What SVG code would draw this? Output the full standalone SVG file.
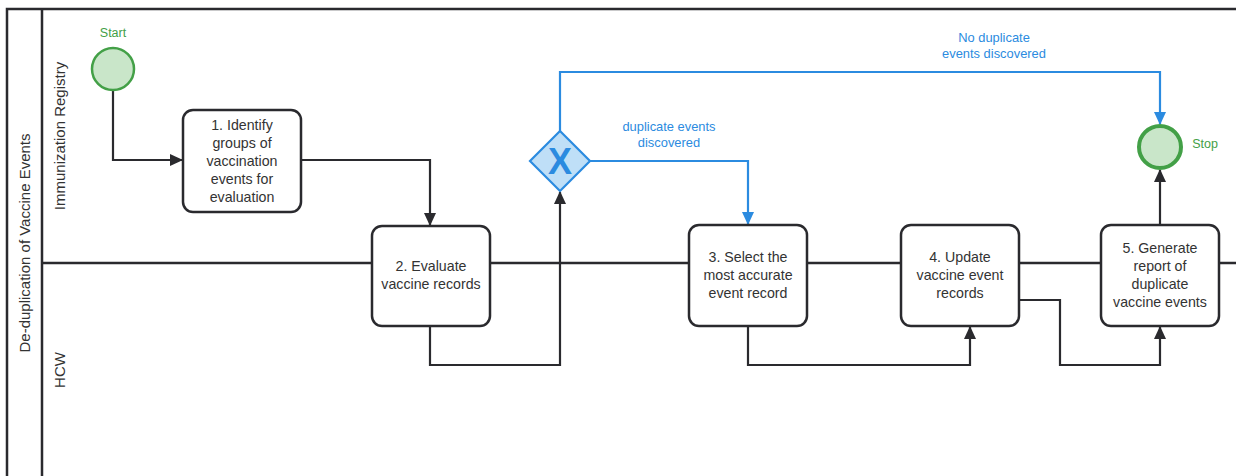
<svg xmlns="http://www.w3.org/2000/svg" width="1236" height="476" viewBox="0 0 1236 476">
<defs>
<style>
.frame{fill:none;stroke:#2a2a2e;stroke-width:2.5}
.task rect{fill:#fff;stroke:#2a2a2e;stroke-width:2.5}
.t{font-family:"Liberation Sans",Arial,sans-serif;font-size:14.2px;fill:#333;text-anchor:middle}
.lane{font-family:"Liberation Sans",Arial,sans-serif;font-size:15px;fill:#333;text-anchor:middle}
.g{font-family:"Liberation Sans",Arial,sans-serif;font-size:12.5px;fill:#43a047;text-anchor:middle}
.b{font-family:"Liberation Sans",Arial,sans-serif;font-size:12.9px;fill:#2b8be0;text-anchor:middle}
.c{fill:none;stroke:#2a2a2e;stroke-width:2.2}
.cb{fill:none;stroke:#2b8be0;stroke-width:2.2}
</style>
<marker id="ak" markerWidth="13" markerHeight="12" refX="12" refY="6" orient="auto" markerUnits="userSpaceOnUse" viewBox="0 0 13 12"><path d="M0,0L13,6L0,12z" fill="#2a2a2e"/></marker>
<marker id="ab" markerWidth="13" markerHeight="12" refX="12" refY="6" orient="auto" markerUnits="userSpaceOnUse" viewBox="0 0 13 12"><path d="M0,0L13,6L0,12z" fill="#2b8be0"/></marker>
</defs>
<rect width="1236" height="476" fill="#fff"/>
<g id="pool">
<path class="frame" d="M1240,9H7V480"/>
<line class="frame" x1="42" y1="9" x2="42" y2="480"/>
<line class="frame" x1="42" y1="263" x2="1240" y2="263"/>
<text class="lane" transform="translate(30,243) rotate(-90)">De-duplication of Vaccine Events</text>
<text class="lane" transform="translate(65,136) rotate(-90)">Immunization Registry</text>
<text class="lane" transform="translate(65,370) rotate(-90)">HCW</text>
</g>
<g id="connectors">
<path class="c" d="M113,91V160H182" marker-end="url(#ak)"/>
<path class="c" d="M301,160H430V225" marker-end="url(#ak)"/>
<path class="c" d="M430,326V365H560V192" marker-end="url(#ak)"/>
<path class="cb" d="M560,131V72H1160V124" marker-end="url(#ab)"/>
<path class="cb" d="M590,161H748V224" marker-end="url(#ab)"/>
<path class="c" d="M748,326V365H970V327" marker-end="url(#ak)"/>
<path class="c" d="M1019,300H1060V365H1160V327" marker-end="url(#ak)"/>
<path class="c" d="M1160,224V170" marker-end="url(#ak)"/>
<text class="b" x="994" y="42">No duplicate</text>
<text class="b" x="994" y="58">events discovered</text>
<text class="b" x="669" y="131">duplicate events</text>
<text class="b" x="669" y="147">discovered</text>
</g>
<g id="start">
<circle cx="113" cy="69" r="21" fill="#c9e6c9" stroke="#43a047" stroke-width="2.5"/>
<text class="g" x="113" y="37">Start</text>
</g>
<g id="task1" class="task">
<rect x="183" y="110" width="118" height="102" rx="10"/>
<text class="t" x="242" y="130">1. Identify</text>
<text class="t" x="242" y="148">groups of</text>
<text class="t" x="242" y="166">vaccination</text>
<text class="t" x="242" y="184">events for</text>
<text class="t" x="242" y="202">evaluation</text>
</g>
<g id="task2" class="task">
<rect x="372" y="226" width="118" height="100" rx="10"/>
<text class="t" x="431" y="271">2. Evaluate</text>
<text class="t" x="431" y="289">vaccine records</text>
</g>
<g id="gateway">
<path d="M560,131L590,161L560,191L530,161z" fill="#bfdff7" stroke="#2b8be0" stroke-width="2.2"/>
<text x="560" y="174" font-family="Liberation Sans,Arial,sans-serif" font-size="36" font-weight="bold" fill="#2b8be0" text-anchor="middle">X</text>
</g>
<g id="task3" class="task">
<rect x="689" y="225" width="118" height="101" rx="10"/>
<text class="t" x="748" y="262">3. Select the</text>
<text class="t" x="748" y="280">most accurate</text>
<text class="t" x="748" y="298">event record</text>
</g>
<g id="task4" class="task">
<rect x="901" y="225" width="118" height="101" rx="10"/>
<text class="t" x="960" y="262">4. Update</text>
<text class="t" x="960" y="280">vaccine event</text>
<text class="t" x="960" y="298">records</text>
</g>
<g id="task5" class="task">
<rect x="1101" y="225" width="118" height="101" rx="10"/>
<text class="t" x="1160" y="253">5. Generate</text>
<text class="t" x="1160" y="271">report of</text>
<text class="t" x="1160" y="289">duplicate</text>
<text class="t" x="1160" y="307">vaccine events</text>
</g>
<g id="stop">
<circle cx="1160" cy="147" r="21" fill="#c9e6c9" stroke="#43a047" stroke-width="4"/>
<text class="g" x="1205" y="148">Stop</text>
</g>
</svg>
